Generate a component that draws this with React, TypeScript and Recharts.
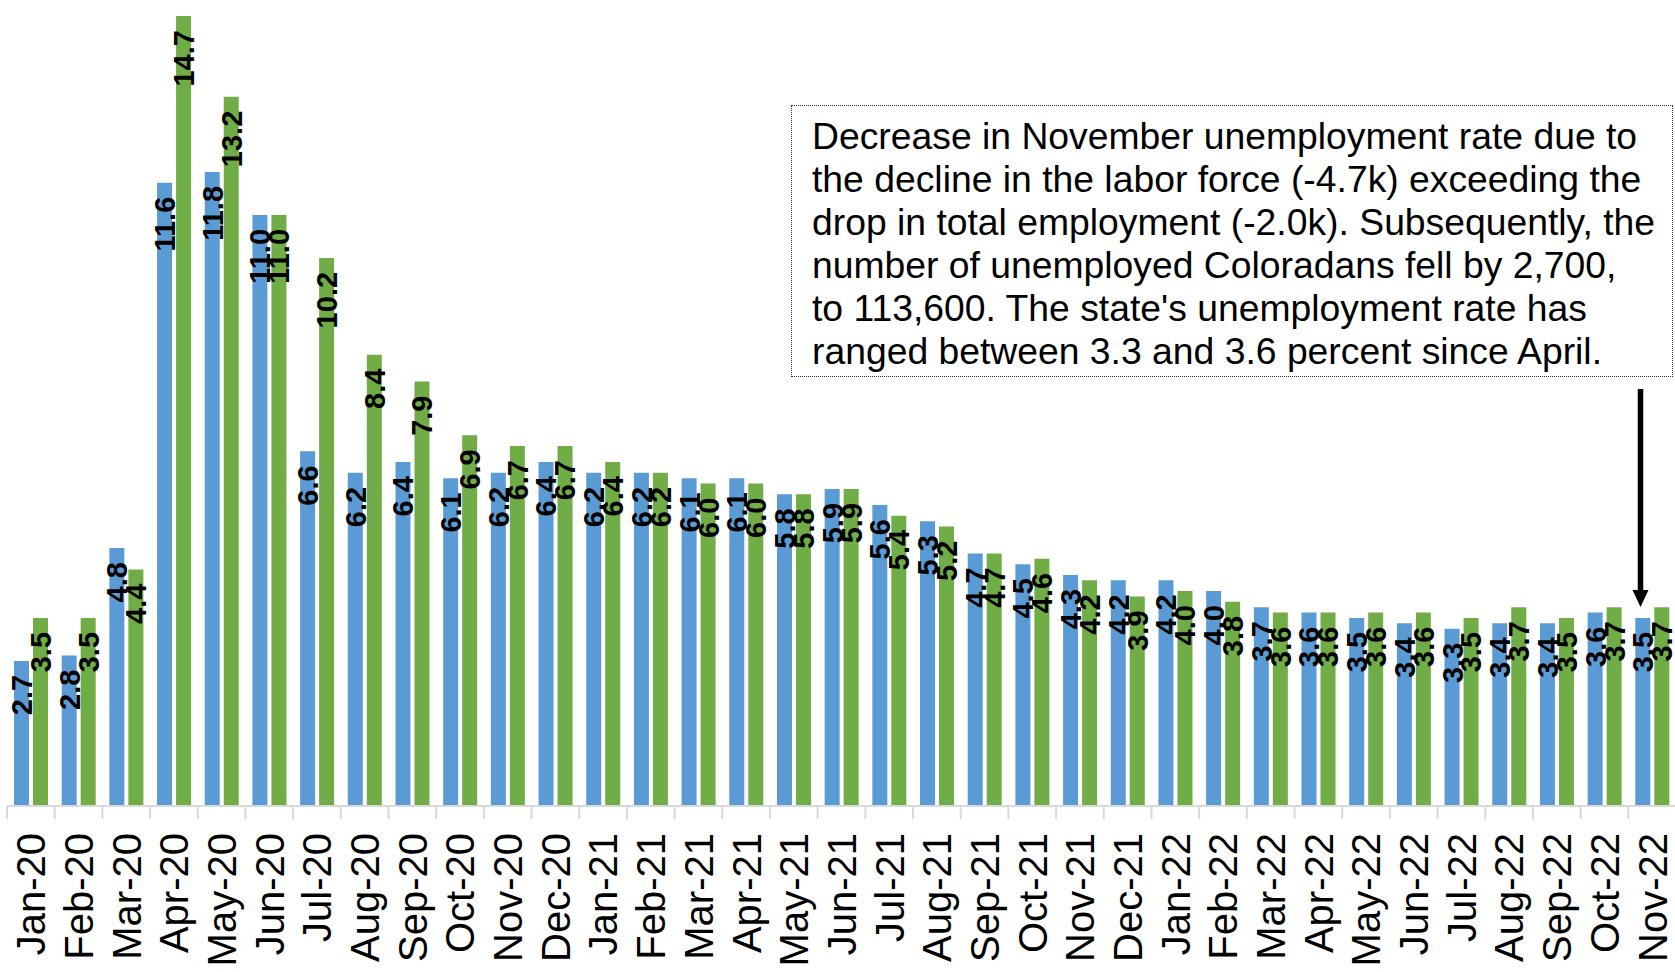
import React from 'react';
import { BarChart, Bar, XAxis, YAxis, LabelList } from 'recharts';

const months = [
  'Jan-20', 'Feb-20', 'Mar-20', 'Apr-20', 'May-20', 'Jun-20', 'Jul-20', 'Aug-20', 'Sep-20', 'Oct-20', 'Nov-20', 'Dec-20',
  'Jan-21', 'Feb-21', 'Mar-21', 'Apr-21', 'May-21', 'Jun-21', 'Jul-21', 'Aug-21', 'Sep-21', 'Oct-21', 'Nov-21', 'Dec-21',
  'Jan-22', 'Feb-22', 'Mar-22', 'Apr-22', 'May-22', 'Jun-22', 'Jul-22', 'Aug-22', 'Sep-22', 'Oct-22', 'Nov-22',
];

const colorado = [
  2.7, 2.8, 4.8, 11.6, 11.8, 11.0, 6.6, 6.2, 6.4, 6.1, 6.2, 6.4,
  6.2, 6.2, 6.1, 6.1, 5.8, 5.9, 5.6, 5.3, 4.7, 4.5, 4.3, 4.2,
  4.2, 4.0, 3.7, 3.6, 3.5, 3.4, 3.3, 3.4, 3.4, 3.6, 3.5,
];

const unitedStates = [
  3.5, 3.5, 4.4, 14.7, 13.2, 11.0, 10.2, 8.4, 7.9, 6.9, 6.7, 6.7,
  6.4, 6.2, 6.0, 6.0, 5.8, 5.9, 5.4, 5.2, 4.7, 4.6, 4.2, 3.9,
  4.0, 3.8, 3.6, 3.6, 3.6, 3.6, 3.5, 3.7, 3.5, 3.7, 3.7,
];

const noteLines = [
  'Decrease in November unemployment rate due to',
  'the decline in the labor force (-4.7k) exceeding the',
  'drop in total employment (-2.0k). Subsequently, the',
  'number of unemployed Coloradans fell by 2,700,',
  "to 113,600. The state's unemployment rate has",
  'ranged between 3.3 and 3.6 percent since April.',
];

const chartData = months.map((m, i) => ({ month: m, co: colorado[i], us: unitedStates[i] }));

const FONT = '"Liberation Sans", Arial, sans-serif';

const MonthTick = (props: any) => {
  const { x, y, payload, width, visibleTicksCount } = props;
  const bw = width && visibleTicksCount ? width / visibleTicksCount : 47.69;
  const left = x - bw / 2;
  return (
    <g>
      <line x1={left} x2={left} y1={y} y2={y + 13} stroke="#D9D9D9" strokeWidth={2} />
      <text
        x={x}
        y={y + 27}
        transform={`rotate(-90, ${x}, ${y + 27})`}
        textAnchor="end"
        dy="0.36em"
        fontSize={40}
        fontFamily={FONT}
        fill="#000"
      >
        {payload.value}
      </text>
    </g>
  );
};

const ValueLabel = (props: any) => {
  const { x, y, width, value } = props;
  const cx = x + width / 2;
  const ty = y + 14;
  return (
    <text
      x={cx}
      y={ty}
      transform={`rotate(-90, ${cx}, ${ty})`}
      textAnchor="end"
      dy="0.36em"
      fontSize={29}
      fontWeight="bold"
      fontFamily={FONT}
      fill="#000"
    >
      {Number(value).toFixed(1)}
    </text>
  );
};

export default function App() {
  return (
    <div style={{ position: 'fixed', left: 0, top: 0, width: 1675, height: 972, overflow: 'hidden', background: '#fff' }}>
      <BarChart
        width={1680}
        height={972}
        data={chartData}
        margin={{ top: 0, right: 4, left: 7, bottom: 0 }}
        barSize={15}
        barGap={4}
      >
        <XAxis
          dataKey="month"
          interval={0}
          axisLine={{ stroke: '#D9D9D9', strokeWidth: 2 }}
          tickLine={false}
          tickSize={0}
          tickMargin={0}
          tick={<MonthTick />}
          height={166}
        />
        <YAxis hide domain={[0, 15]} allowDataOverflow />
        <Bar dataKey="co" fill="#5B9BD5" isAnimationActive={false}>
          <LabelList dataKey="co" content={<ValueLabel />} />
        </Bar>
        <Bar dataKey="us" fill="#70AD47" isAnimationActive={false}>
          <LabelList dataKey="us" content={<ValueLabel />} />
        </Bar>
      </BarChart>

      <div
        style={{
          position: 'absolute',
          left: 791,
          top: 105,
          width: 882,
          height: 272,
          boxSizing: 'border-box',
          border: '1.5px dotted #333',
          background: '#fff',
          padding: '9px 0 0 20px',
          fontFamily: FONT,
          fontSize: 37.3,
          lineHeight: '43px',
          color: '#000',
          whiteSpace: 'nowrap',
        }}
      >
        {noteLines.map((l) => (
          <div key={l}>{l}</div>
        ))}
      </div>

      <svg style={{ position: 'absolute', left: 0, top: 0 }} width={1675} height={972} pointerEvents="none">
        <line x1={1640.5} x2={1640.5} y1={389} y2={592} stroke="#000" strokeWidth={5.5} />
        <polygon points="1632.5,590 1648.5,590 1640.5,607" fill="#000" />
      </svg>
    </div>
  );
}
